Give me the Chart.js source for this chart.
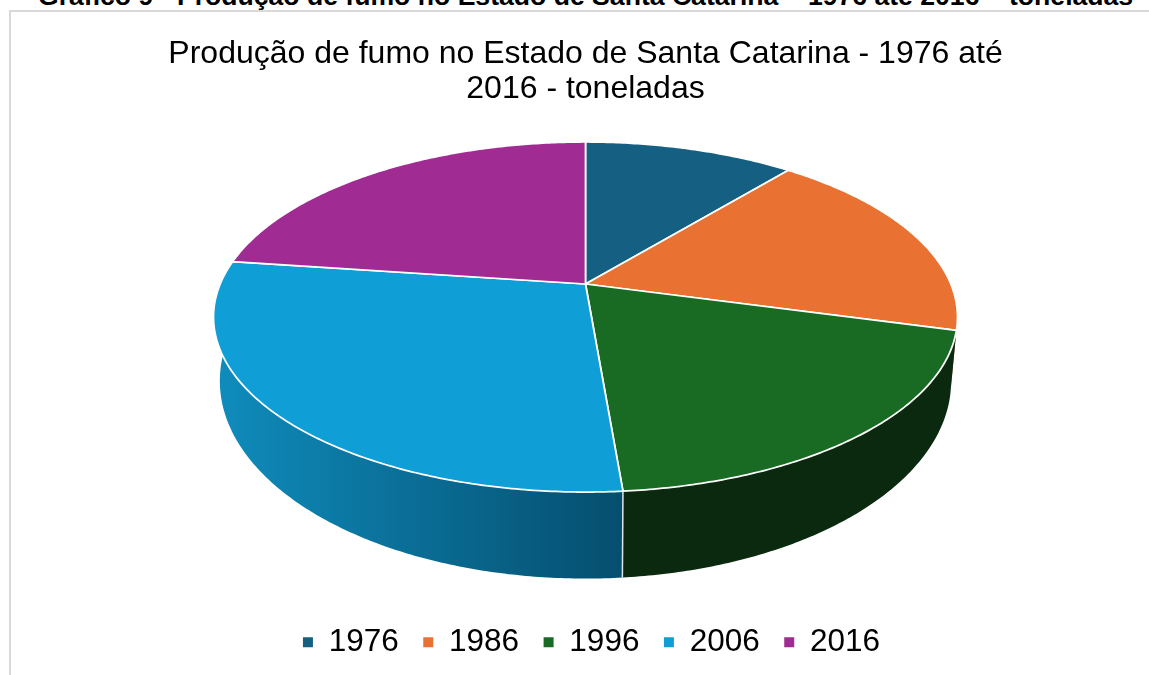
<!DOCTYPE html>
<html lang="pt">
<head>
<meta charset="utf-8">
<title>Produção de fumo</title>
<script src="https://cdn.jsdelivr.net/npm/chart.js@4/dist/chart.umd.min.js"></script>
<style>
    html, body { margin: 0; padding: 0; background: #fff; overflow: hidden; width: 1149px; height: 675px; }
    #caption {
        position: absolute; left: 38px; top: -19px; white-space: nowrap;
        font: bold 26.6px "Liberation Sans", Arial, sans-serif; color: #000;
    }
    #frame {
        position: absolute; left: 9px; top: 10px; width: 1160px; height: 700px;
        border: 2px solid #d9d9d9; box-sizing: border-box;
    }
    #chart { position: absolute; left: 10px; top: 11px; }
</style>
</head>
<body>
<div id="caption">Gráfico 9 - Produção de fumo no Estado de Santa Catarina – 1976 até 2016 – toneladas</div>
<div id="frame"></div>
<canvas id="chart" width="1151" height="664"></canvas>
<script>
const years = ['1976', '1986', '1996', '2006', '2016'];
// toneladas
const production = [62000, 103000, 110000, 161000, 129000];
const topColors = ['#156082', '#E97132', '#196B24', '#0F9ED5', '#A02B93'];
// side wall shades, left to right
const wallLeft = ['#0c3a4f', '#8a431e', '#0b2c0e', '#0f8cbc', '#5f1a58'];
const wallRight = ['#0c3a4f', '#8a431e', '#0b290e', '#054e6e', '#5f1a58'];
const chartTitle = ['Produção de fumo no Estado de Santa Catarina - 1976 até', '2016 - toneladas'];

// projection of the pie disc, canvas coordinates
const topFace = { cx: 575.5, cy: 273, a: 365.3, b: 168.8, k: 0.1886 };
const bottomFace = { cx: 575.5, cy: 332.5, a: 359, b: 190.4, k: 0.19 };

function project(face, angle) {
    // the arc angles from Chart.js start at -PI/2, so shift to clockwise from the top
    const t = angle + Math.PI / 2;
    const u = Math.sin(t);
    const v = -Math.cos(t);
    const w = 1 - face.k * v;
    return { x: face.cx + face.a * u / w, y: face.cy + face.b * v / w };
}

function arcPoints(face, start, end) {
    const steps = Math.max(2, Math.ceil((end - start) / 0.01));
    const points = [];
    for (let i = 0; i <= steps; i++) {
        points.push(project(face, start + (end - start) * i / steps));
    }
    return points;
}

function tracePoints(ctx, points, moveFirst) {
    points.forEach((p, i) => {
        if (i === 0 && moveFirst) ctx.moveTo(p.x, p.y);
        else ctx.lineTo(p.x, p.y);
    });
}

const pie3d = {
    id: 'pie3d',
    beforeDatasetDraw(chart, args) {
        const ctx = chart.ctx;
        const arcs = args.meta.data;
        ctx.save();
        ctx.lineJoin = 'round';

        // walls first, the top faces hide whatever is behind them
        arcs.forEach((arc, i) => {
            const upper = arcPoints(topFace, arc.startAngle, arc.endAngle);
            const lower = arcPoints(bottomFace, arc.startAngle, arc.endAngle).reverse();
            const gradient = ctx.createLinearGradient(206, 0, 611, 0);
            gradient.addColorStop(0, wallLeft[i]);
            gradient.addColorStop(1, wallRight[i]);
            ctx.beginPath();
            tracePoints(ctx, upper, true);
            tracePoints(ctx, lower, false);
            ctx.closePath();
            ctx.fillStyle = gradient;
            ctx.fill();
        });

        // seam between the two visible walls
        const seam = arcs[3].startAngle;
        const seamTop = project(topFace, seam);
        const seamBottom = project(bottomFace, seam);
        ctx.beginPath();
        ctx.moveTo(seamTop.x, seamTop.y);
        ctx.lineTo(seamBottom.x, seamBottom.y);
        ctx.strokeStyle = '#dfe6e8';
        ctx.lineWidth = 1.5;
        ctx.stroke();

        arcs.forEach((arc, i) => {
            ctx.beginPath();
            ctx.moveTo(topFace.cx, topFace.cy);
            tracePoints(ctx, arcPoints(topFace, arc.startAngle, arc.endAngle), false);
            ctx.closePath();
            ctx.fillStyle = topColors[i];
            ctx.fill();
            ctx.strokeStyle = '#ffffff';
            ctx.lineWidth = 1.75;
            ctx.stroke();
        });

        ctx.restore();
        return false;
    },
    afterLayout(chart) {
        // legend sits a bit right of the title in the original
        chart.legend.left += 6;
        chart.legend.right += 6;
    }
};

new Chart(document.getElementById('chart'), {
    type: 'pie',
    data: {
        labels: years,
        datasets: [{
            data: production,
            backgroundColor: topColors,
            borderWidth: 0
        }]
    },
    options: {
        responsive: false,
        animation: false,
        layout: { padding: { bottom: 7 } },
        plugins: {
            title: {
                display: true,
                text: chartTitle,
                color: '#000',
                font: { family: '"Liberation Sans"', size: 32, weight: 'normal', lineHeight: 1.11 },
                padding: { top: 25, bottom: 10 }
            },
            legend: {
                position: 'bottom',
                labels: {
                    color: '#000',
                    font: { family: '"Liberation Sans"', size: 31.5 },
                    boxWidth: 10,
                    boxHeight: 10,
                    padding: 24.5
                }
            },
            tooltip: { enabled: false }
        }
    },
    plugins: [pie3d]
});
</script>
</body>
</html>
